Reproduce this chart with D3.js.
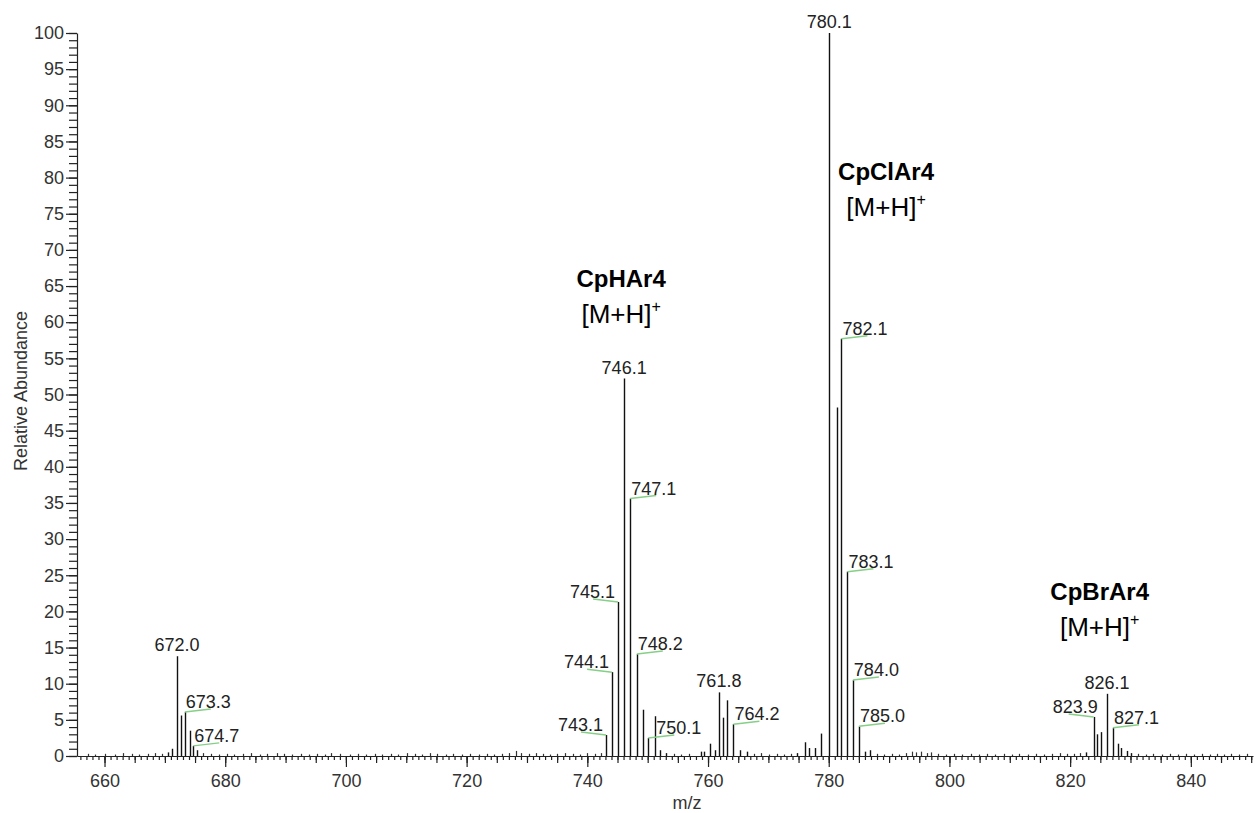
<!DOCTYPE html>
<html>
<head>
<meta charset="utf-8">
<script src="https://cdn.jsdelivr.net/npm/d3@7"></script>
<style>
  body { margin: 0; background: #fff; }
  svg { display: block; }
  text { font-family: "Liberation Sans", Arial, sans-serif; }
</style>
</head>
<body>
<svg id="graph"></svg>
<script>
// main peaks (m/z, relative abundance)
var peakMz = [670.5, 671.2, 672.0, 672.7, 673.3, 674.2, 674.7, 675.3,
              743.1, 744.1, 745.1, 746.1, 747.1, 748.2, 749.3, 750.1, 751.2, 752.1, 753.1,
              758.8, 759.4, 760.4, 761.1, 761.8, 762.5, 763.2, 764.2, 765.3, 766.4,
              774.8, 776.0, 776.8, 777.7, 778.8, 780.1, 781.3, 782.1, 783.1, 784.0, 785.0, 786.0, 786.8,
              822.7, 823.9, 824.5, 825.1, 826.1, 827.1, 827.9, 828.4, 829.4, 830.1];
var peakAbund = [0.5, 1.0, 13.8, 5.6, 6.1, 3.5, 1.4, 0.8,
                 2.9, 11.6, 21.3, 52.2, 35.6, 14.1, 6.4, 2.5, 5.5, 0.8, 0.4,
                 0.6, 0.6, 1.7, 0.8, 8.8, 5.3, 7.7, 4.4, 0.8, 0.6,
                 0.4, 1.9, 1.1, 1.1, 3.1, 100, 48.2, 57.7, 25.5, 10.5, 4.1, 0.6, 0.8,
                 0.5, 5.4, 3.0, 3.3, 8.6, 3.9, 1.7, 1.1, 0.7, 0.4];

// baseline noise
var noiseMz = [657.2, 658.5, 660.1, 661.8, 663.0, 664.6, 665.7, 667.2, 668.4, 669.5,
               676.4, 677.6, 679.0, 680.3, 681.5, 683.0, 684.2, 685.8, 687.0, 688.6, 689.7,
               691.0, 692.5, 693.8, 695.2, 696.5, 697.6, 699.0, 700.6, 702.0, 703.3, 704.8,
               706.0, 707.4, 708.7, 710.2, 711.5, 712.6, 713.9, 715.1, 716.5, 717.8, 719.3,
               720.6, 722.0, 723.4, 724.5, 725.8, 727.1, 728.2, 729.0, 730.3, 731.5, 732.6,
               733.8, 735.0, 736.3, 737.6, 738.8, 740.0, 741.2, 742.3,
               754.4, 755.6, 756.9, 767.6, 768.8, 770.1, 771.4, 772.6, 773.7,
               788.0, 789.2, 790.5, 791.6, 792.8, 793.8, 794.5, 795.3, 796.2, 797.0, 798.1,
               799.4, 800.8, 802.1, 803.5, 804.9, 806.2, 807.6, 809.0, 810.4, 811.6, 813.0,
               814.3, 815.7, 817.0, 818.3, 819.5, 820.6, 821.6,
               831.2, 832.5, 833.8, 835.2, 836.5, 837.9, 839.2, 840.6, 841.8, 843.2, 844.3,
               845.5, 846.7, 848.0, 849.3];
var noiseAbund = [0.3, 0.2, 0.3, 0.2, 0.4, 0.3, 0.2, 0.3, 0.4, 0.3,
                  0.4, 0.3, 0.2, 0.3, 0.2, 0.3, 0.4, 0.2, 0.3, 0.4, 0.3,
                  0.2, 0.3, 0.2, 0.3, 0.2, 0.4, 0.3, 0.2, 0.3, 0.2, 0.3,
                  0.2, 0.3, 0.2, 0.4, 0.3, 0.2, 0.4, 0.3, 0.2, 0.3, 0.2,
                  0.3, 0.2, 0.3, 0.2, 0.3, 0.4, 0.7, 0.4, 0.3, 0.4, 0.3,
                  0.2, 0.3, 0.4, 0.3, 0.2, 0.4, 0.3, 0.4,
                  0.3, 0.2, 0.3, 0.3, 0.4, 0.2, 0.3, 0.2, 0.3,
                  0.3, 0.2, 0.3, 0.2, 0.4, 0.6, 0.5, 0.6, 0.4, 0.5, 0.3,
                  0.2, 0.3, 0.2, 0.3, 0.2, 0.3, 0.2, 0.3, 0.2, 0.3, 0.2,
                  0.3, 0.2, 0.3, 0.4, 0.3, 0.3, 0.4,
                  0.3, 0.2, 0.3, 0.2, 0.3, 0.2, 0.3, 0.2, 0.3, 0.2, 0.3,
                  0.2, 0.3, 0.2, 0.3];

// labelled peaks
var topLabels = ["672.0", "746.1", "761.8", "780.1", "826.1"];
var rightLabels = ["673.3", "674.7", "747.1", "748.2", "750.1", "764.2",
                   "782.1", "783.1", "784.0", "785.0", "827.1"];
var leftLabels = ["743.1", "744.1", "745.1", "823.9"];

var compounds = ["CpHAr4", "CpClAr4", "CpBrAr4"];
var compoundMz = [745.6, 789.5, 824.9];
var compoundTop = [64.9, 79.7, 21.6];

var yMajorTicks = d3.range(0, 101, 5);
var xMajorTicks = [660, 680, 700, 720, 740, 760, 780, 800, 820, 840];

var screen = {width: 1255, height: 813};

var svg = d3.select("#graph")
    .attr("width", screen.width)
    .attr("height", screen.height);

var xScale = d3.scaleLinear()
    .domain([655.44, 850.3])
    .range([77, 1253]);

var yScale = d3.scaleLinear()
    .domain([0, 100])
    .range([756, 33]);

var abundOf = function(mz)
{
    var i = peakMz.indexOf(mz);
    return peakAbund[i];
}

// y axis: minor then major
svg.append("g")
    .attr("transform", "translate(77,0)")
    .call(d3.axisLeft(yScale).tickValues(d3.range(0, 101, 1)).tickSize(8).tickFormat(""))
    .call(function(g) { g.select(".domain").remove(); });

var yAxis = svg.append("g")
    .attr("transform", "translate(77,0)")
    .call(d3.axisLeft(yScale).tickValues(yMajorTicks).tickSize(11).tickPadding(2).tickSizeOuter(0));
yAxis.selectAll("text")
    .attr("font-size", 18)
    .attr("fill", "#333")
    .attr("font-family", "Liberation Sans, Arial, sans-serif");

// x axis: minor, medium, major
svg.append("g")
    .attr("transform", "translate(0,756)")
    .call(d3.axisBottom(xScale).tickValues(d3.range(656, 851, 1)).tickSize(4).tickFormat(""))
    .call(function(g) { g.select(".domain").remove(); });

svg.append("g")
    .attr("transform", "translate(0,756)")
    .call(d3.axisBottom(xScale).tickValues(d3.range(660, 851, 5)).tickSize(7).tickFormat(""))
    .call(function(g) { g.select(".domain").remove(); });

var xAxis = svg.append("g")
    .attr("transform", "translate(0,756)")
    .call(d3.axisBottom(xScale).tickValues(xMajorTicks).tickSize(11).tickPadding(7).tickSizeOuter(0));
xAxis.selectAll("text")
    .attr("font-size", 18)
    .attr("fill", "#333")
    .attr("font-family", "Liberation Sans, Arial, sans-serif");

svg.selectAll(".tick line").attr("stroke", "#222").attr("stroke-width", 1.2);
svg.selectAll(".domain").attr("stroke", "#222").attr("stroke-width", 1.2);

// axis titles
svg.append("text")
    .attr("x", xScale(756.5))
    .attr("y", 809)
    .attr("text-anchor", "middle")
    .attr("font-size", 18)
    .attr("fill", "#333")
    .text("m/z");

svg.append("text")
    .attr("transform", "translate(27," + 391 + ") rotate(-90)")
    .attr("text-anchor", "middle")
    .attr("font-size", 18)
    .attr("fill", "#333")
    .text("Relative Abundance");

// noise sticks
svg.append("g")
    .selectAll("line")
    .data(d3.zip(noiseMz, noiseAbund))
    .enter()
    .append("line")
    .attr("x1", function(d) { return Math.round(xScale(d[0])) + 0.5; })
    .attr("x2", function(d) { return Math.round(xScale(d[0])) + 0.5; })
    .attr("y1", yScale(0))
    .attr("y2", function(d) { return yScale(d[1]); })
    .attr("stroke", "#333")
    .attr("stroke-width", 1.2);

// peak sticks
svg.append("g")
    .selectAll("line")
    .data(d3.zip(peakMz, peakAbund))
    .enter()
    .append("line")
    .attr("x1", function(d) { return Math.round(xScale(d[0])) + 0.5; })
    .attr("x2", function(d) { return Math.round(xScale(d[0])) + 0.5; })
    .attr("y1", yScale(0))
    .attr("y2", function(d) { return yScale(d[1]); })
    .attr("stroke", "#111")
    .attr("stroke-width", 1.4);

// labels on top of peaks
svg.append("g")
    .selectAll("text")
    .data(topLabels)
    .enter()
    .append("text")
    .attr("x", function(l) { return xScale(+l); })
    .attr("y", function(l) { return yScale(abundOf(+l)) - 5; })
    .attr("text-anchor", "middle")
    .attr("font-size", 18)
    .attr("fill", "#222")
    .text(function(l) { return l; });

// right side labels with green leader
var rightG = svg.append("g")
    .selectAll("g")
    .data(rightLabels)
    .enter()
    .append("g");
rightG.append("line")
    .attr("x1", function(l) { return xScale(+l); })
    .attr("y1", function(l) { return yScale(abundOf(+l)); })
    .attr("x2", function(l) { return xScale(+l) + 26; })
    .attr("y2", function(l) { return yScale(abundOf(+l)) - 3; })
    .attr("stroke", "#86cf86")
    .attr("stroke-width", 1.5);
rightG.append("text")
    .attr("x", function(l) { return xScale(+l) + (l == "750.1" ? 8 : 1); })
    .attr("y", function(l) { return yScale(abundOf(+l)) - 4; })
    .attr("font-size", 18)
    .attr("fill", "#222")
    .text(function(l) { return l; });

// left side labels with green leader
var leftG = svg.append("g")
    .selectAll("g")
    .data(leftLabels)
    .enter()
    .append("g");
leftG.append("line")
    .attr("x1", function(l) { return xScale(+l); })
    .attr("y1", function(l) { return yScale(abundOf(+l)); })
    .attr("x2", function(l) { return xScale(+l) - 25; })
    .attr("y2", function(l) { return yScale(abundOf(+l)) - 3; })
    .attr("stroke", "#86cf86")
    .attr("stroke-width", 1.5);
leftG.append("text")
    .attr("x", function(l) { return xScale(+l) + (l == "823.9" ? 4 : -3); })
    .attr("y", function(l) { return yScale(abundOf(+l)) - 4; })
    .attr("text-anchor", "end")
    .attr("font-size", 18)
    .attr("fill", "#222")
    .text(function(l) { return l; });

// compound annotations
compounds.forEach(function(name, i)
{
    var cx = xScale(compoundMz[i]);
    var cy = yScale(compoundTop[i]);
    svg.append("text")
        .attr("x", cx)
        .attr("y", cy)
        .attr("text-anchor", "middle")
        .attr("font-family", "Lato, 'Open Sans', sans-serif")
        .attr("font-weight", "bold")
        .attr("font-size", 24)
        .attr("fill", "#000")
        .text(name);
    var t = svg.append("text")
        .attr("x", cx)
        .attr("y", cy + 36)
        .attr("text-anchor", "middle")
        .attr("font-family", "Lato, 'Open Sans', sans-serif")
        .attr("font-size", 26)
        .attr("fill", "#000");
    t.append("tspan").text("[M+H]");
    t.append("tspan")
        .attr("dy", -11)
        .attr("font-size", 16)
        .text("+");
});
</script>
</body>
</html>
